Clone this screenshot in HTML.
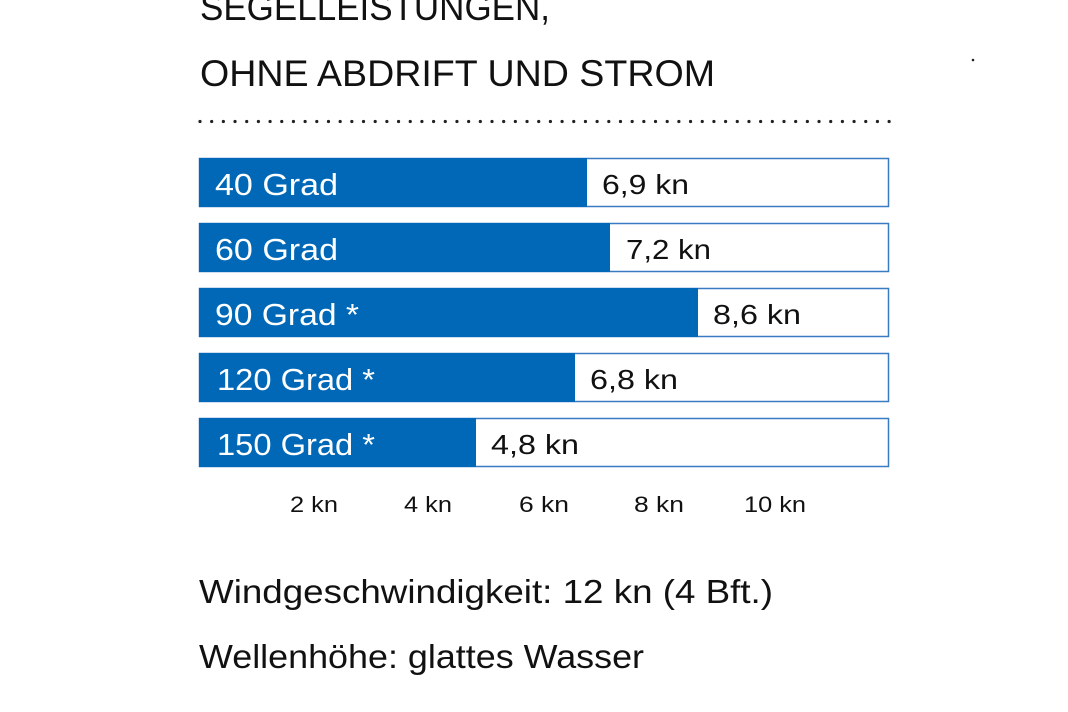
<!DOCTYPE html>
<html><head><meta charset="utf-8"><style>
html,body{margin:0;padding:0;background:#fff;width:1068px;height:712px;overflow:hidden}
svg text{font-family:"Liberation Sans",sans-serif}
</style></head><body>
<svg width="1068" height="712" viewBox="0 0 1068 712" xmlns="http://www.w3.org/2000/svg">
<text x="200" y="20" font-size="37" fill="#111" textLength="350" lengthAdjust="spacingAndGlyphs">SEGELLEISTUNGEN,</text>
<text x="200" y="86" font-size="37" fill="#111" textLength="515" lengthAdjust="spacingAndGlyphs">OHNE ABDRIFT UND STROM</text>
<line x1="200" y1="121.5" x2="895" y2="121.5" stroke="#222" stroke-width="3.2" stroke-linecap="round" stroke-dasharray="0 11.68"/>
<circle cx="973" cy="60" r="1.3" fill="#222"/>
<g stroke="#3a7cc4" stroke-width="1.5" fill="#fff">
<rect x="199.5" y="158.5" width="689" height="48"/>
<rect x="199.5" y="223.5" width="689" height="48"/>
<rect x="199.5" y="288.5" width="689" height="48"/>
<rect x="199.5" y="353.5" width="689" height="48"/>
<rect x="199.5" y="418.5" width="689" height="48"/>
</g>
<g fill="#0068b7">
<rect x="199" y="158" width="388" height="49"/>
<rect x="199" y="223" width="411" height="49"/>
<rect x="199" y="288" width="499" height="49"/>
<rect x="199" y="353" width="376" height="49"/>
<rect x="199" y="418" width="277" height="49"/>
</g>
<g fill="#fff" font-size="31">
<text x="215" y="195" textLength="123" lengthAdjust="spacingAndGlyphs">40 Grad</text>
<text x="215" y="260" textLength="123" lengthAdjust="spacingAndGlyphs">60 Grad</text>
<text x="215" y="325" textLength="144" lengthAdjust="spacingAndGlyphs">90 Grad *</text>
<text x="217" y="390" textLength="158" lengthAdjust="spacingAndGlyphs">120 Grad *</text>
<text x="217" y="455" textLength="158" lengthAdjust="spacingAndGlyphs">150 Grad *</text>
</g>
<g fill="#111" font-size="28">
<text x="602" y="194" textLength="87" lengthAdjust="spacingAndGlyphs">6,9 kn</text>
<text x="626" y="259" textLength="85" lengthAdjust="spacingAndGlyphs">7,2 kn</text>
<text x="713" y="324" textLength="88" lengthAdjust="spacingAndGlyphs">8,6 kn</text>
<text x="590" y="389" textLength="88" lengthAdjust="spacingAndGlyphs">6,8 kn</text>
<text x="491" y="454" textLength="88" lengthAdjust="spacingAndGlyphs">4,8 kn</text>
</g>
<g fill="#111" font-size="22">
<text x="290" y="512" textLength="48" lengthAdjust="spacingAndGlyphs">2 kn</text>
<text x="404" y="512" textLength="48" lengthAdjust="spacingAndGlyphs">4 kn</text>
<text x="519" y="512" textLength="50" lengthAdjust="spacingAndGlyphs">6 kn</text>
<text x="634" y="512" textLength="50" lengthAdjust="spacingAndGlyphs">8 kn</text>
<text x="744" y="512" textLength="62" lengthAdjust="spacingAndGlyphs">10 kn</text>
</g>
<g fill="#111" font-size="33">
<text x="199" y="603" textLength="574" lengthAdjust="spacingAndGlyphs">Windgeschwindigkeit: 12 kn (4 Bft.)</text>
<text x="199" y="668" textLength="445" lengthAdjust="spacingAndGlyphs">Wellenhöhe: glattes Wasser</text>
</g>
</svg>
</body></html>
